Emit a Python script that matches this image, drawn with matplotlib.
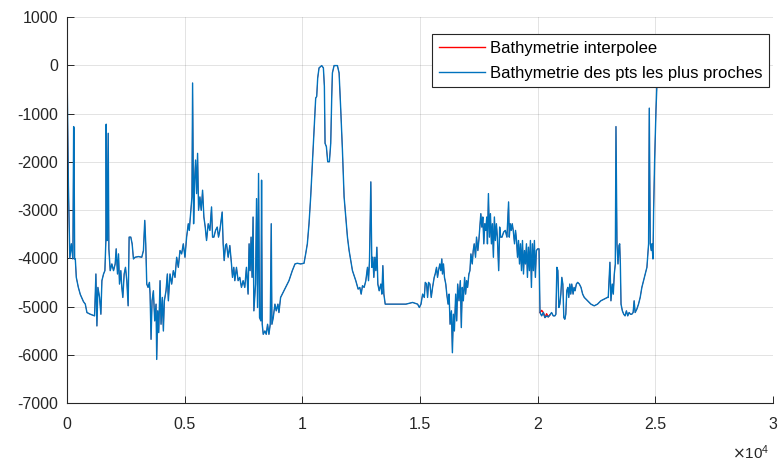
import matplotlib
matplotlib.use("Agg")
import matplotlib.pyplot as plt

# Profil bathymetrique le long du trajet (distance en m, profondeur en m)
dist = [
    0, 60, 120, 184, 250, 282, 296, 325, 353, 395, 480, 565, 700, 777, 847, 988,
    1172, 1228, 1271, 1313, 1384, 1440, 1483, 1553, 1610, 1652, 1666, 1690, 1709,
    1751, 1779, 1836, 1906, 1977, 2047, 2090, 2146, 2189, 2231, 2287, 2330, 2372,
    2429, 2485, 2542, 2598, 2640, 2711, 2768, 2824, 2895, 3036, 3177, 3248, 3304,
    3346, 3389, 3445, 3502, 3530, 3572, 3614, 3671, 3727, 3784, 3812, 3855, 3897,
    3954, 3996, 4052, 4095, 4137, 4208, 4264, 4307, 4377, 4448, 4518, 4589, 4660,
    4730, 4801, 4871, 4942, 5013, 5083, 5154, 5196, 5253, 5309, 5337, 5380, 5422,
    5464, 5507, 5549, 5591, 5648, 5704, 5761, 5817, 5874, 5930, 6001, 6072, 6142,
    6185, 6241, 6312, 6383, 6439, 6495, 6594, 6636, 6679, 6735, 6778, 6848, 6919,
    6989, 7032, 7088, 7131, 7201, 7272, 7342, 7413, 7484, 7554, 7625, 7695, 7738,
    7780, 7822, 7865, 7907,
    7941, 8012, 8055, 8097, 8140, 8182, 8239, 8268, 8296, 8339, 8410, 8466, 8523,
    8580, 8637, 8679, 8708, 8765, 8836, 8892, 8963, 9006, 9077, 9148, 9290, 9432,
    9574, 9688, 9787, 9929, 10071, 10142, 10213, 10284, 10355, 10426, 10497, 10568,
    10611, 10653, 10710, 10824, 10895, 10937, 10966, 11022, 11079, 11150, 11207,
    11250, 11278, 11349, 11491, 11562, 11633, 11704, 11775, 11846, 11917, 11988,
    12130, 12272, 12371, 12442, 12500, 12556, 12627, 12698, 12769, 12812, 12854,
    12911, 12954, 12996, 13039, 13081, 13124, 13167, 13209, 13266, 13337, 13380,
    13422, 13465, 13522, 13621, 13976, 14402, 14686, 14899,
    14972, 15042, 15112, 15183, 15225, 15281, 15323, 15365, 15422, 15478, 15534,
    15604, 15646, 15703, 15745, 15787, 15843, 15885, 15927, 15955, 15998, 16040,
    16096, 16138, 16194, 16236, 16279, 16335, 16377, 16419, 16461, 16517, 16560,
    16602, 16658, 16714, 16756, 16798, 16841, 16897, 16939, 16981, 17023, 17079,
    17122, 17164, 17220, 17262, 17304, 17360, 17403, 17459, 17501, 17543, 17585,
    17627, 17670, 17712, 17754, 17796, 17838, 17866, 17908, 17951, 17993, 18035,
    18077, 18119, 18161, 18203, 18246, 18288, 18344, 18386, 18428, 18484, 18555,
    18625, 18695, 18737, 18765, 18794, 18836, 18878, 18920, 18962, 19018, 19060,
    19103, 19145, 19187, 19229, 19271, 19313, 19355, 19398, 19440, 19482, 19524,
    19566, 19608, 19650, 19693, 19735, 19777, 19819, 19861, 19903, 19946, 20002,
    20058, 20100, 20170, 20241, 20311, 20381, 20451, 20522, 20592, 20662, 20732,
    20775, 20817, 20859, 20901, 20943, 20985, 21027, 21070, 21112, 21154, 21196,
    21238, 21280, 21322, 21365, 21407, 21449, 21505, 21547, 21589, 21645, 21701,
    21772, 21842, 21912, 21982, 22122, 22263, 22403, 22544, 22684, 22824, 22964,
    23000, 23071, 23114, 23171, 23214, 23257, 23300, 23328, 23371, 23414, 23457,
    23486, 23514, 23543, 23600, 23657, 23714, 23771, 23828, 23886, 23943, 24000,
    24057, 24100, 24143, 24214, 24286, 24357, 24428, 24500, 24571, 24643, 24686,
    24714, 24743, 24786, 24828, 24857, 24900, 24928, 24971, 25029, 25086, 25114,
]

depth = [
    0, -2500, -4000, -3700, -4014, -1271, -1300, -4014, -4014, -4396, -4600, -4750,
    -4900, -4950, -5125, -5160, -5194, -4326, -5403, -4604, -4812, -5160, -4465,
    -4326, -4257, -3632, -1222, -3632, -3632, -1410, -3805, -4257, -4118, -4257,
    -4118, -3805, -4326, -3910, -4535, -4257, -4604, -4812, -4326, -4188, -4465,
    -4986, -3562, -3562, -3701, -4014, -3979, -3965, -3979, -3840, -3215, -3701,
    -4535, -4604, -4500, -4743, -5680, -4882, -4674, -5298, -4951, -6097, -5090,
    -5541, -4465, -5368, -4812, -5507, -4882, -4674, -4326, -4882, -4326, -4535,
    -4257, -4396, -3979, -4188, -3840, -3910, -3701, -3979, -3562, -3285, -3423,
    -3076, -2729, -368, -3285, -2382, -1965, -2660, -1826, -3007, -2729, -3007,
    -2590, -3146, -3354, -3632, -3285, -3423, -2937, -3562, -3562, -3423, -3354,
    -3562, -3423, -3042, -3701, -4048, -3736, -3701, -3979, -3736, -4118, -4396,
    -4188, -4465, -4188, -4465, -4396, -4604, -4465, -4604, -4188, -4743, -3701,
    -4257, -3562, -4396, -3146,
    -5090, -4535, -2764, -5021, -2243, -5229, -5298, -2382, -5368, -5576, -5507,
    -5576, -5368, -5576, -5368, -3285, -5368, -5229, -4951, -5090, -4951, -5125,
    -4812, -4743, -4604, -4465, -4257, -4118, -4104, -4118, -4104, -3910, -3701,
    -3285, -2729, -2035, -1340, -681, -646, -264, -56, -7, -56, -437, -1618,
    -1687, -2000, -2000, -1618, -646, -160, -7, -7, -160, -924, -1757, -2729,
    -3146, -3562, -3840, -4257, -4465, -4639, -4604, -4743, -4569, -4604, -4465,
    -4188, -4465, -4048, -2417, -4188, -3979, -4396, -3979, -4257, -3771, -4535,
    -4674, -4535, -4743, -4153, -4743, -4951, -4951, -4951, -4951, -4916, -4951,
    -5020, -4951, -4743, -4812, -4500, -4535, -4812, -4500, -4535, -4812, -4604,
    -4396, -4326, -4188, -4396, -4257, -4118, -4257, -4014, -4326, -4118, -4396,
    -4535, -4743, -4951, -4743, -5368, -5090, -5958, -5160, -5507, -4743, -5298,
    -4535, -4882, -4465, -5437, -4604, -4882, -4396, -4743, -4465, -4604, -4326,
    -4257, -3910, -4118, -3840, -3701, -3979, -3562, -3840, -3632, -3354, -3076,
    -3354, -3146, -3701, -3285, -3423, -3146, -3701, -2660, -3562, -3076, -3701,
    -3285, -3979, -3146, -3632, -3285, -3562, -4257, -3354, -3562, -3562, -3458,
    -3423, -3562, -3146, -2833, -3562, -3285, -3423, -3285, -3423, -3701, -3423,
    -3632, -3979, -3632, -4118, -3701, -4257, -3632, -4326, -3840, -4118, -3701,
    -4396, -3771, -4257, -3632, -4604, -3701, -4257, -3632, -4396, -3840, -3805,
    -3805, -5125, -5194, -5125, -5229, -5194, -5215, -5174, -5125, -5194, -5194,
    -5160, -4188, -4257, -5021, -4951, -4743, -4396, -4535, -5229, -5264, -5160,
    -4674, -4604, -4812, -4535, -4743, -4535, -4743, -4604, -4674, -4535, -4500,
    -4535, -4604, -4743, -4812, -4882, -4951, -4986, -4951, -4882, -4847, -4812,
    -4812, -4083, -4882, -4535, -4743, -4326, -4118, -1271, -3701, -4118, -3736,
    -3701, -4118, -4951, -5090, -5160, -5194, -5090, -5194, -5125, -5160, -5160,
    -5125, -4882, -5125, -5055, -4951, -4812, -4604, -4465, -4326, -4188, -3910,
    -3701, -889, -3701, -3840, -3701, -4014, -3007, -1965, -924, -160, 0,
]

# petits ecarts visibles de la bathymetrie interpolee
interp_dist = [20100, 20170, 20241, 20311, 20381, 20451, 20522]
interp_depth = [-5125, -5080, -5125, -5229, -5150, -5215, -5174]

ytick_vals = [-7000, -6000, -5000, -4000, -3000, -2000, -1000, 0, 1000]
xtick_vals = [0, 5000, 10000, 15000, 20000, 25000, 30000]
xtick_labels = ['0', '0.5', '1', '1.5', '2', '2.5', '3']

plt.rcParams['font.family'] = ['Liberation Sans', 'DejaVu Sans']
plt.rcParams['axes.unicode_minus'] = False

axis_col = '#262626'
fig = plt.figure(figsize=(7.8, 4.62), dpi=100)
ax = fig.add_axes([0.0859, 0.1277, 0.9051, 0.8355])

# la courbe interpolee est presque entierement cachee sous l'autre
ax.plot(dist, depth, color='#FF0000', lw=0.5)
ax.plot(interp_dist, interp_depth, color='#FF0000', lw=1.0, label='Bathymetrie interpolee')
ax.plot(dist, depth, color='#0072BD', lw=1.0, label='Bathymetrie des pts les plus proches')

ax.set_xlim(0, 30000)
ax.set_ylim(-7000, 1000)
ax.set_xticks(xtick_vals)
ax.set_xticklabels(xtick_labels)
ax.set_yticks(ytick_vals)

ax.grid(True, color=axis_col, alpha=0.15, lw=0.6)
ax.set_axisbelow(True)
for side in ['top', 'right']:
    ax.spines[side].set_visible(False)
for side in ['left', 'bottom']:
    ax.spines[side].set_color(axis_col)
    ax.spines[side].set_linewidth(0.8)
ax.tick_params(direction='in', length=5, width=0.7, color=axis_col,
               labelcolor=axis_col, labelsize=11.5)
ax.tick_params(axis='x', pad=10)
ax.tick_params(axis='y', pad=6.5)

ax.text(0.995, -0.128, r'$\times\mathregular{10^{4}}$', transform=ax.transAxes,
        ha='right', va='center', fontsize=11, color=axis_col)

leg = ax.legend(loc='upper right', bbox_to_anchor=(0.994, 0.956), borderaxespad=0,
                fontsize=12, handlelength=2.8, fancybox=False, framealpha=1,
                edgecolor=axis_col, borderpad=0.4, labelspacing=0.6,
                handletextpad=0.25)
leg.get_frame().set_linewidth(0.8)

fig.savefig('out.png', dpi=100)
